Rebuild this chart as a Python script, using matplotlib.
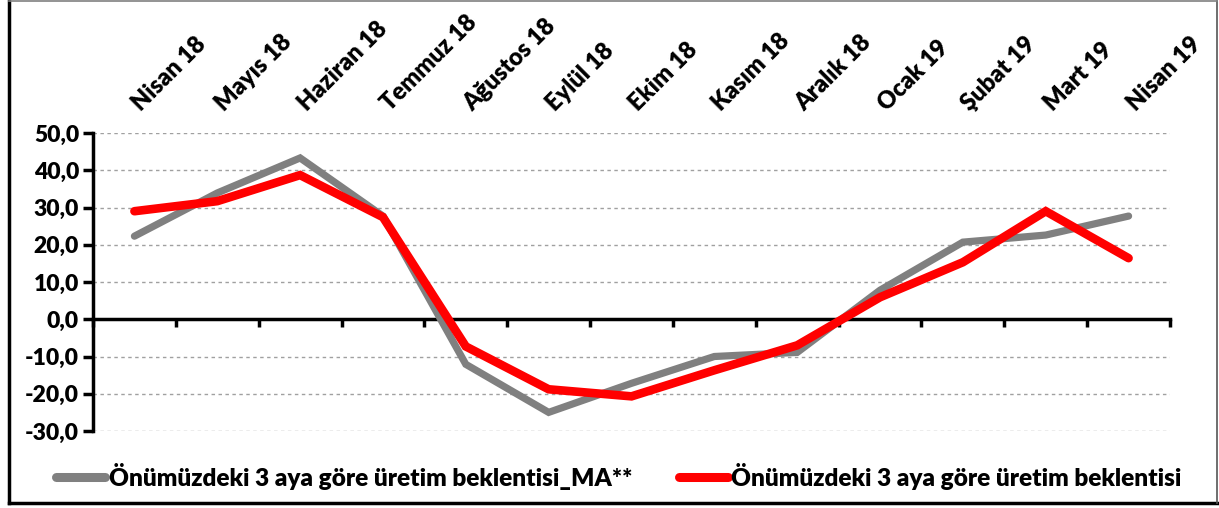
import matplotlib
matplotlib.use("Agg")
import matplotlib.pyplot as plt
from matplotlib.lines import Line2D
from matplotlib.transforms import blended_transform_factory, ScaledTranslation
import numpy as np

categories = ["Nisan 18", "Mayıs 18", "Haziran 18", "Temmuz 18", "Ağustos 18",
              "Eylül 18", "Ekim 18", "Kasım 18", "Aralık 18", "Ocak 19",
              "Şubat 19", "Mart 19", "Nisan 19"]
ma_values = [22.3, 33.9, 43.3, 27.7, -12.1, -25.0, -17.2, -10.0, -8.9, 7.8, 20.7, 22.6, 27.7]
raw_values = [29.0, 31.7, 38.7, 27.4, -7.3, -18.8, -20.7, -13.7, -7.0, 5.9, 15.3, 29.0, 16.4]
series_names = ["Önümüzdeki 3 aya göre üretim beklentisi_MA**",
                "Önümüzdeki 3 aya göre üretim beklentisi"]
y_ticks = [-30, -20, -10, 0, 10, 20, 30, 40, 50]

plt.rcParams['font.family'] = ['Lato', 'DejaVu Sans']
plt.rcParams['font.weight'] = 'heavy'
FW = "heavy"

W, H = 1219, 508
fig = plt.figure(figsize=(W / 100, H / 100), dpi=100)
ax = fig.add_axes([93 / W, 1 - 431 / H, (1170 - 93) / W, (431 - 133) / H])

n = len(categories)
x = np.arange(n)
ax.plot(x, ma_values, color="#808080", lw=5.2, solid_capstyle="round",
        solid_joinstyle="miter", zorder=3)
ax.plot(x, raw_values, color="#FF0000", lw=6.2, solid_capstyle="round",
        solid_joinstyle="miter", zorder=4)

ax.set_xlim(-0.5, n - 0.5)
ax.set_ylim(-30, 50)

for v in y_ticks:
    if v != 0:
        ax.axhline(v, color="#A0A0A0", lw=1.0, ls=(0, (2.5, 2.5)), zorder=1)

for s in ["top", "right"]:
    ax.spines[s].set_visible(False)
ax.spines["bottom"].set_position(("data", 0))
ax.spines["bottom"].set_linewidth(2.5)
ax.spines["left"].set_linewidth(2.5)
ax.spines["bottom"].set_zorder(2)

ax.set_yticks(y_ticks)
ax.set_yticklabels([f"{v:.1f}".replace(".", ",") for v in y_ticks],
                   fontsize=16.5, fontweight=FW)
ax.tick_params(axis="y", direction="out", length=7, width=2.5, pad=3)

bounds = np.arange(n + 1) - 0.5
ax.set_xticks(bounds)
ax.set_xticklabels([])
ax.tick_params(axis="x", direction="out", length=6, width=2.5)

# category labels above the plot, rotated 45 degrees
label_tr = blended_transform_factory(ax.transData, ax.transAxes) + \
    ScaledTranslation(7 / 100, 21 / 100, fig.dpi_scale_trans)
for xi, cat in zip(x, categories):
    ax.text(xi, 1.0, cat, transform=label_tr, rotation=45, rotation_mode="anchor",
            ha="left", va="baseline", fontsize=17, fontweight=FW, clip_on=False)

handles = [Line2D([], [], color="#808080", lw=6.5, solid_capstyle="round"),
           Line2D([], [], color="#FF0000", lw=6.5, solid_capstyle="round")]
leg = fig.legend(handles, series_names, loc="center", bbox_to_anchor=(619 / W, 1 - 476 / H),
                 ncol=2, frameon=False, handlelength=2.0, handletextpad=0.15,
                 columnspacing=1.9, prop={"size": 17.6, "weight": FW})

fig.add_artist(Line2D([9 / W, 9 / W], [1 - 503 / H, 1 - 1 / H], transform=fig.transFigure,
                      color="black", lw=2.5))
fig.add_artist(Line2D([9 / W, 1217 / W], [1 - 503 / H, 1 - 503 / H], transform=fig.transFigure,
                      color="black", lw=2.5))
fig.add_artist(Line2D([1217 / W, 1217 / W], [1 - 503 / H, 1 - 1 / H], transform=fig.transFigure,
                      color="#555555", lw=1.2))
fig.add_artist(Line2D([9 / W, 1217 / W], [1 - 1 / H, 1 - 1 / H], transform=fig.transFigure,
                      color="#808080", lw=1.2))

fig.savefig("out.png", dpi=100)
